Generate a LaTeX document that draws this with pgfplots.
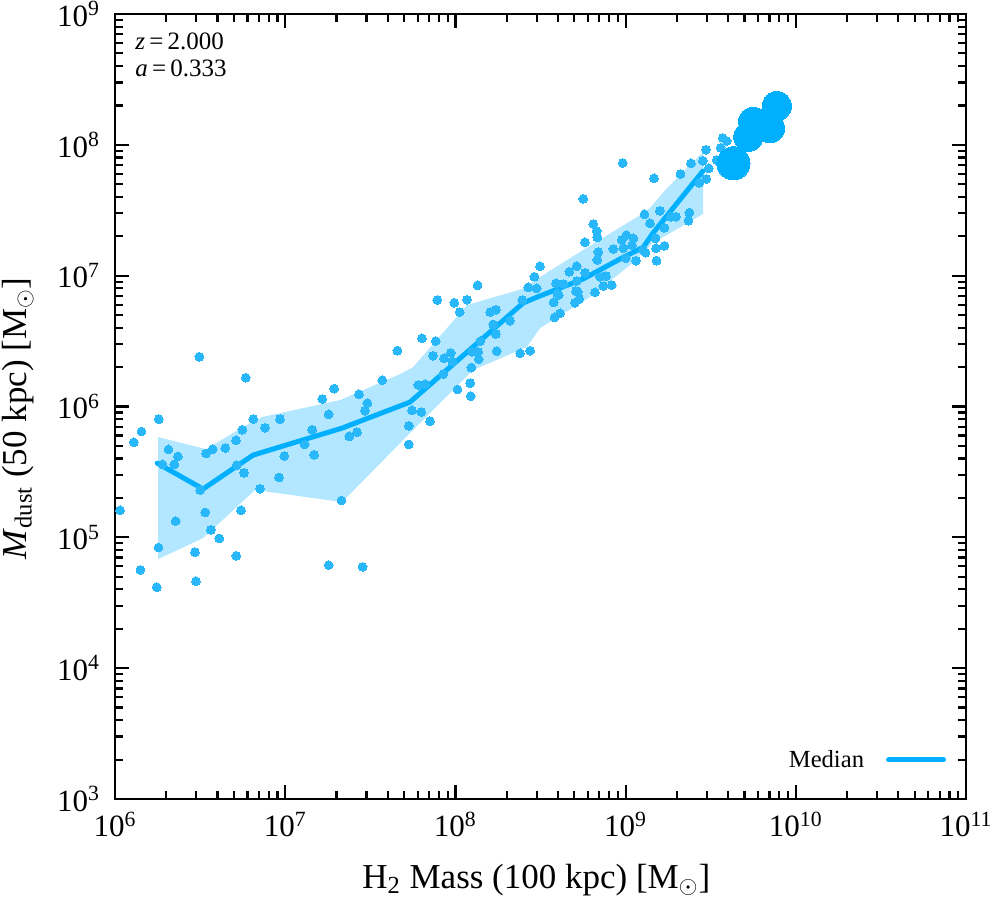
\documentclass[border=0pt]{standalone}
\usepackage{fontspec}
\setmainfont{Liberation Serif}
\usepackage{pgfplots}
\pgfplotsset{compat=1.18}
\definecolor{mblue}{RGB}{0,176,255}
\definecolor{dblue}{RGB}{40,184,250}
\begin{document}
\begin{tikzpicture}
\path[use as bounding box] (-57.5pt,-50.5pt) rectangle (440.5pt,399.5pt);
\begin{axis}[
  scale only axis, width=425.5pt, height=392.5pt,
  xmode=log, ymode=log, xmin=1e6, xmax=1e11, ymin=1e3, ymax=1e9,
  xtick={1e6,1e7,1e8,1e9,1e10,1e11},
  xticklabels={10\textsuperscript{6},10\textsuperscript{7},10\textsuperscript{8},10\textsuperscript{9},10\textsuperscript{10},10\textsuperscript{11}},
  ytick={1e3,1e4,1e5,1e6,1e7,1e8,1e9},
  yticklabels={10\textsuperscript{3},10\textsuperscript{4},10\textsuperscript{5},10\textsuperscript{6},10\textsuperscript{7},10\textsuperscript{8},10\textsuperscript{9}},
  tick align=inside,
  major tick length=7pt, minor tick length=4pt,
  axis line style={line width=1.3pt},
  every tick/.style={black, line width=1.1pt},
  ticklabel style={font=\fontsize{15.5}{18}\selectfont},
  xticklabel style={yshift=-3pt},
  yticklabel style={xshift=-4pt},
  xlabel={H\textsubscript{2} Mass (100 kpc) [M$_\odot$]},
  ylabel={\textit{M}\textsubscript{dust} (50 kpc) [M$_\odot$]},
  label style={font=\fontsize{17.5}{20}\selectfont},
  x label style={at={(axis description cs:0.495,-0.103)}, anchor=center},
  y label style={at={(axis description cs:-0.114,0.485)}, anchor=center},
  legend plot pos=right,
  legend style={draw=none, fill=none, at={(rel axis cs:0.977,0.0497)}, anchor=east,
    font=\fontsize{12.3}{14}\selectfont, inner sep=0pt, column sep=9pt},
  legend image code/.code={\draw[#1, line width=2.5pt] (0pt,0pt) -- (27.5pt,0pt);},
]
% band
\addplot[fill=mblue, fill opacity=0.3, draw=none, forget plot] coordinates {
(1.79e6,5.84e5) (3.43e6,4.72e5) (5.65e6,6.96e5) (7.31e6,8.30e5) (2.10e7,1.12e6)
(4.73e7,1.77e6) (5.64e7,2.00e6) (1.17e8,5.96e6) (2.46e8,7.90e6) (3.14e8,9.76e6)
(5.62e8,1.57e7) (1.17e9,2.81e7) (1.39e9,3.29e7) (1.75e9,4.67e7) (2.85e9,8.81e7)
(2.85e9,2.96e7) (1.45e9,1.78e7) (1.10e9,1.25e7) (6.18e8,6.86e6) (3.14e8,3.97e6)
(2.63e8,2.85e6) (1.27e8,1.90e6) (5.41e7,6.26e5) (2.16e7,1.86e5) (6.65e6,2.30e5)
(3.29e6,9.86e4) (1.79e6,6.81e4)
} -- cycle;
% scatter
\addplot[only marks, mark=*, mark size=2.2pt, mark options={draw=dblue, fill=dblue, line width=0pt}, forget plot] table {
x y
3.13e6 2.40e6
5.86e6 1.66e6
4.56e7 2.67e6
3.72e7 1.59e6
1.94e7 1.37e6
1.65e7 1.14e6
2.71e7 1.24e6
3.04e7 1.06e6
2.94e7 9.27e5
1.80e7 8.71e5
9.32e6 8.01e5
6.50e6 8.01e5
7.61e6 6.87e5
5.60e6 6.64e5
5.14e6 5.51e5
4.45e6 4.81e5
3.75e6 4.72e5
3.43e6 4.38e5
1.81e6 8.01e5
1.43e6 6.45e5
1.29e6 5.32e5
2.06e6 4.70e5
2.34e6 4.15e5
2.23e6 3.61e5
1.90e6 3.61e5
1.44e7 6.64e5
1.30e7 5.13e5
9.88e6 4.18e5
1.48e7 4.27e5
2.38e7 5.91e5
2.64e7 6.37e5
5.19e6 3.56e5
5.73e6 3.11e5
9.20e6 2.87e5
7.11e6 2.35e5
3.16e6 2.30e5
2.14e7 1.91e5
1.07e6 1.61e5
3.39e6 1.55e5
5.50e6 1.61e5
2.27e6 1.33e5
3.66e6 1.14e5
4.10e6 9.81e4
1.80e6 8.37e4
2.95e6 7.71e4
5.16e6 7.22e4
1.80e7 6.13e4
2.85e7 5.95e4
1.41e6 5.64e4
2.99e6 4.62e4
1.76e6 4.16e4
3.14e8 1.18e7
2.91e8 9.81e6
2.68e8 8.14e6
3.00e8 8.00e6
1.35e8 8.43e6
7.83e7 6.51e6
9.85e7 6.21e6
1.17e8 6.54e6
1.06e8 5.27e6
1.60e8 5.27e6
1.73e8 5.49e6
2.47e8 6.51e6
3.90e8 8.73e6
4.31e8 8.63e6
4.67e8 1.07e7
5.16e8 1.18e7
5.11e8 7.62e6
5.04e8 6.21e6
3.78e8 6.25e6
4.05e8 7.11e6
3.83e8 4.80e6
4.12e8 5.15e6
2.09e8 4.52e6
1.67e8 4.24e6
1.73e8 3.58e6
1.40e8 3.16e6
1.36e8 2.62e6
1.25e8 2.62e6
1.37e8 2.30e6
1.24e8 1.98e6
1.75e8 2.65e6
2.40e8 2.55e6
2.75e8 2.67e6
6.36e7 3.32e6
7.66e7 3.16e6
7.38e7 2.44e6
8.57e7 2.34e6
9.38e7 2.57e6
9.59e7 2.21e6
8.49e7 1.77e6
6.05e7 1.46e6
6.63e7 1.48e6
1.22e8 1.51e6
1.03e8 1.35e6
1.23e8 1.20e6
5.56e7 9.34e5
6.31e7 9.06e5
7.09e7 7.73e5
5.32e7 7.12e5
5.32e7 5.13e5
9.62e8 7.26e7
1.47e9 5.55e7
5.64e8 3.87e7
2.10e9 5.98e7
2.42e9 7.22e7
2.84e9 7.56e7
2.97e9 9.17e7
3.72e9 1.13e8
3.93e9 1.07e8
3.62e9 9.50e7
3.43e9 7.65e7
3.08e9 6.61e7
2.97e9 5.48e7
2.71e9 5.13e7
2.37e9 3.03e7
2.34e9 2.63e7
1.98e9 2.82e7
1.84e9 2.82e7
1.69e9 2.32e7
1.59e9 3.13e7
1.29e9 2.94e7
1.39e9 2.51e7
1.50e9 1.93e7
1.51e9 1.62e7
1.69e9 1.69e7
1.52e9 1.30e7
6.46e8 2.48e7
6.76e8 2.20e7
6.82e8 1.96e7
5.77e8 1.80e7
6.91e8 1.52e7
6.82e8 1.32e7
8.47e8 1.60e7
9.49e8 1.87e7
1.01e9 2.04e7
1.11e9 1.93e7
1.09e9 1.71e7
9.69e8 1.62e7
1.00e9 1.36e7
1.15e9 1.30e7
1.27e9 1.57e7
5.77e8 1.05e7
5.16e8 9.10e6
5.23e8 7.53e6
5.35e8 6.62e6
3.97e8 7.32e6
6.61e8 7.45e6
7.08e8 9.81e6
7.67e8 9.93e6
7.40e8 8.33e6
8.29e8 8.47e6
1.31e9 1.50e7
};
% median
\addplot[mblue, line width=2.5pt, line join=round, line cap=round] coordinates {
(1.77e6,3.69e5) (3.29e6,2.34e5) (6.47e6,4.25e5) (2.16e7,6.84e5) (5.41e7,1.08e6)
(2.50e8,6.18e6) (3.02e8,6.86e6) (5.62e8,9.42e6) (9.27e8,1.34e7) (1.27e9,1.65e7)
(1.45e9,2.12e7) (2.85e9,6.31e7)
};
\addlegendentry{Median}
% large points
\addplot[only marks, mark=*, mark size=7.3pt, mark options={draw=mblue, fill=mblue, line width=0pt}, forget plot] table {
x y
7.73e9 1.98e8
5.62e9 1.50e8
7.05e9 1.34e8
5.26e9 1.15e8
};
\addplot[only marks, mark=*, mark size=8.3pt, mark options={draw=mblue, fill=mblue, line width=0pt}, forget plot] table {
x y
4.30e9 7.22e7
};
\node[anchor=north west, align=left, inner sep=0pt, font=\fontsize{12.5}{13.5}\selectfont] at (rel axis cs:0.0235,0.977) {\textit{z}\,=\,2.000\\\textit{a}\,=\,0.333};
\end{axis}
\end{tikzpicture}
\end{document}
